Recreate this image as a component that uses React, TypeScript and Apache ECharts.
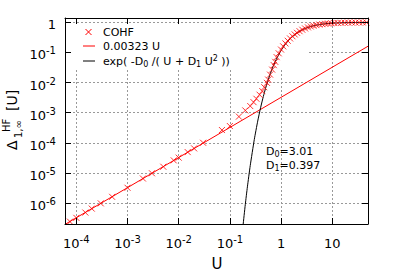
import React, { useEffect, useRef } from "react";
import * as echarts from "echarts";

// ---- data ----
const cohfU = [
  7.5e-5, 1e-4, 1.5e-4, 2e-4, 3e-4, 5e-4, 1e-3, 2e-3, 3e-3, 5e-3, 8e-3, 1e-2, 1.5e-2, 2e-2, 3e-2,
  0.07, 0.1, 0.15, 0.2, 0.25, 0.29, 0.33, 0.38, 0.43, 0.47, 0.53, 0.56, 0.61, 0.67, 0.72, 0.77,
  0.82, 0.9, 1.0, 1.1, 1.22, 1.35, 1.5, 1.67, 1.85, 2.05, 2.3, 2.6, 2.95, 3.35, 3.8, 4.3, 4.9,
  5.6, 6.4, 7.3, 8.3, 9.5, 11, 12.8, 15, 17.6, 20.6, 24.2, 28.5, 33.5, 39.5, 46.5,
];
const cohfV = [
  2.4e-7, 3.2e-7, 4.8e-7, 6.5e-7, 9.7e-7, 1.6e-6, 3.2e-6, 6.5e-6, 9.7e-6, 1.6e-5, 2.6e-5, 3.2e-5, 4.9e-5, 6.5e-5, 1.0e-4,
  2.65e-4, 3.6e-4, 7.4e-4, 1.19e-3, 1.66e-3, 2.24e-3, 2.9e-3, 3.96e-3, 5.2e-3, 7.0e-3, 9.8e-3, 0.0126, 0.0184, 0.027, 0.038, 0.049,
  0.07, 0.094, 0.125, 0.16, 0.2, 0.245, 0.293, 0.346, 0.398, 0.451, 0.51, 0.571, 0.628, 0.683, 0.733, 0.775, 0.814,
  0.848, 0.876, 0.9, 0.918, 0.934, 0.949, 0.96, 0.969, 0.977, 0.982, 0.986, 0.99, 0.992, 0.994, 0.996,
];
const linearU = [6e-5, 50];
const linearV = [1.94e-7, 0.1615];
const expU = [0.17, 0.18, 0.2, 0.22, 0.25, 0.3, 0.35, 0.4, 0.45, 0.5, 0.6, 0.7, 0.8, 1, 1.2, 1.5, 2, 2.5, 3, 4, 5, 7, 10, 15, 20, 30, 50];
const expV = [
  6.25e-8, 1.67e-7, 8.8e-7, 3.43e-6, 1.75e-5, 1.28e-4, 5.26e-4, 1.51e-3, 3.43e-3, 6.59e-3, 0.0174, 0.0346, 0.0575,
  0.116, 0.183, 0.284, 0.432, 0.5466, 0.633, 0.748, 0.817, 0.892, 0.941, 0.9715, 0.983, 0.9923, 0.997,
];
const legendLabels = ["COHF", "0.00323 U", "{n|exp( -D}{sub|0}{n| /( U + D}{sub|1}{n| U}{sup|2}{n| ))}"];
const paramLabels = ["{n|D}{sub|0}{n|=3.01}", "{n|D}{sub|1}{n|=0.397}"];
const X_MIN = 6e-5;
const X_MAX = 50;
const Y_MIN = 2e-7;
const Y_MAX = 1.4;

const FONT = "DejaVu Sans";

function tickFmt(v: number) {
  const e = Math.round(Math.log10(v));
  if (e === 0) return "{b|1}";
  if (e === 1) return "{b|10}";
  return `{b|10}{s|${e}}`;
}

const labelRich = {
  b: { fontSize: 13, lineHeight: 18, verticalAlign: "middle", fontFamily: FONT, color: "#000" },
  s: { fontSize: 10, lineHeight: 10, verticalAlign: "top", fontFamily: FONT, color: "#000" },
};

const smallRich = {
  n: { fontSize: 11, lineHeight: 14, verticalAlign: "middle", fontFamily: FONT, color: "#000" },
  sub: { fontSize: 8, lineHeight: 6, verticalAlign: "bottom", fontFamily: FONT, color: "#000" },
  sup: { fontSize: 8, lineHeight: 6, verticalAlign: "top", fontFamily: FONT, color: "#000" },
};

function txt(x: number, y: number, text: string, size: number, align = "left", rich?: any) {
  return {
    type: "text", z: 4, x, y,
    style: {
      text, rich, font: `${size}px '${FONT}'`, fill: "#000",
      align, verticalAlign: "middle", textAlign: align, textVerticalAlign: "middle",
    },
  };
}

export default function App() {
  const ref = useRef<HTMLDivElement>(null);
  useEffect(() => {
    if (!ref.current) return;
    const chart = echarts.init(ref.current, null, { renderer: "svg" });
    const grid = { left: 65, top: 18, width: 303, height: 206 };
    const frameLine = { show: true, onZero: false, lineStyle: { color: "#000", width: 1 } };
    const frameTick = { show: true, inside: true, length: 6, lineStyle: { color: "#000", width: 1 } };
    const gridLine = { show: true, lineStyle: { color: "#999", width: 1, type: [2, 2] } };
    const baseX: any = { type: "log", logBase: 10, min: X_MIN, max: X_MAX, gridIndex: 0 };
    const baseY: any = { type: "log", logBase: 10, min: Y_MIN, max: Y_MAX, gridIndex: 0 };
    const hidden = { axisLine: { show: false }, axisTick: { show: false }, axisLabel: { show: false } };

    const option: any = {
      animation: false,
      grid,
      xAxis: [
        { ...baseX, position: "bottom", z: 0, ...hidden, splitLine: gridLine },
        {
          ...baseX, position: "bottom", z: 5, axisLine: frameLine, axisTick: frameTick, splitLine: { show: false },
          axisLabel: {
            show: true, margin: 10, showMinLabel: false, showMaxLabel: false,
            formatter: tickFmt, rich: labelRich, fontFamily: FONT, fontSize: 13, color: "#000",
          },
        },
        { ...baseX, position: "top", z: 5, axisLine: frameLine, axisTick: frameTick, axisLabel: { show: false }, splitLine: { show: false } },
      ],
      yAxis: [
        { ...baseY, position: "left", z: 0, ...hidden, splitLine: gridLine },
        {
          ...baseY, position: "left", z: 5, axisLine: frameLine, axisTick: frameTick, splitLine: { show: false },
          axisLabel: {
            show: true, margin: 9, showMinLabel: false, showMaxLabel: false, padding: [5, 0, 0, 0],
            formatter: tickFmt, rich: labelRich, fontFamily: FONT, fontSize: 13, color: "#000",
          },
        },
        { ...baseY, position: "right", z: 5, axisLine: frameLine, axisTick: frameTick, axisLabel: { show: false }, splitLine: { show: false } },
      ],
      series: [
        {
          name: "0.00323 U",
          type: "line",
          xAxisIndex: 0, yAxisIndex: 0,
          data: linearU.map((u, i) => [u, linearV[i]]),
          showSymbol: false, symbol: "none",
          lineStyle: { color: "#ff0000", width: 1 },
          z: 2,
        },
        {
          name: "exp",
          type: "line",
          xAxisIndex: 0, yAxisIndex: 0,
          data: expU.map((u, i) => [u, expV[i]]),
          showSymbol: false, symbol: "none",
          smooth: 0.2,
          lineStyle: { color: "#000", width: 1 },
          z: 2,
        },
        {
          name: "COHF",
          type: "scatter",
          xAxisIndex: 0, yAxisIndex: 0,
          data: cohfU.map((u, i) => [u, cohfV[i]]),
          symbol: "path://M0,0L10,10M0,10L10,0",
          symbolSize: 6,
          itemStyle: { color: "rgba(0,0,0,0)", borderColor: "#ff0000", borderWidth: 1 },
          z: 3,
        },
      ],
      graphic: [
        { type: "rect", z: 1, silent: true, shape: { x: 66, y: 24, width: 241, height: 44 }, style: { fill: "#fff" } },
        { type: "line", z: 4, shape: { x1: 85.5, y1: 29, x2: 91.5, y2: 35 }, style: { stroke: "#ff0000", lineWidth: 1 } },
        { type: "line", z: 4, shape: { x1: 85.5, y1: 35, x2: 91.5, y2: 29 }, style: { stroke: "#ff0000", lineWidth: 1 } },
        { type: "line", z: 4, shape: { x1: 83, y1: 46, x2: 95, y2: 46 }, style: { stroke: "#ff0000", lineWidth: 1 } },
        { type: "line", z: 4, shape: { x1: 83, y1: 61, x2: 95, y2: 61 }, style: { stroke: "#000", lineWidth: 1 } },
        txt(103, 32, legendLabels[0], 11),
        txt(103, 46, legendLabels[1], 11),
        txt(103, 61, legendLabels[2], 11, "left", smallRich),
        txt(266, 151, paramLabels[0], 11, "left", smallRich),
        txt(266, 165, paramLabels[1], 11, "left", smallRich),
        txt(217, 263.5, "U", 15, "center"),
        {
          type: "group", x: 12, y: 150, rotation: Math.PI / 2,
          children: [
            txt(0, 0, "Δ", 14),
            txt(12, 6, "1,∞", 10),
            txt(18, -6, "HF", 10),
            txt(39, 0, "[U]", 14),
          ],
        },
      ],
    };
    chart.setOption(option);
    return () => chart.dispose();
  }, []);
  return <div ref={ref} style={{ position: "absolute", left: 0, top: 0, width: 395, height: 276, background: "#fff" }} />;
}
